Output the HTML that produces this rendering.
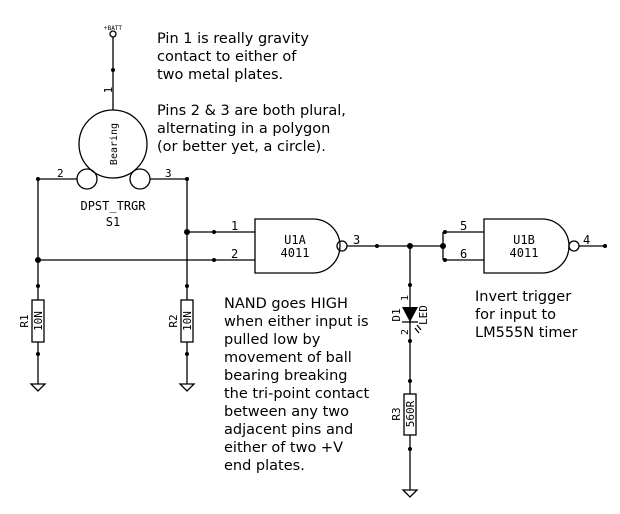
<!DOCTYPE html>
<html><head><style>
body{margin:0;background:#fff}
svg{display:block}
.t{font-family:"DejaVu Sans",sans-serif;font-size:14.5px;fill:#000}
.s{font-family:"DejaVu Sans Mono","Liberation Mono",monospace;font-size:11px;fill:#000}
</style></head><body>
<svg width="620" height="514" viewBox="0 0 620 514" xmlns="http://www.w3.org/2000/svg">
<g stroke="#000" stroke-width="1.3" fill="none">
<circle cx="113" cy="34" r="3"/>
<line x1="113" y1="37" x2="113" y2="110"/>
<circle cx="113" cy="144" r="34"/>
<circle cx="87" cy="179" r="10"/>
<circle cx="140" cy="179" r="10"/>
<line x1="38" y1="179" x2="77" y2="179"/>
<line x1="150" y1="179" x2="187" y2="179"/>
<line x1="38" y1="179" x2="38" y2="300"/>
<line x1="187" y1="179" x2="187" y2="300"/>
<line x1="187" y1="232" x2="255" y2="232"/>
<line x1="38" y1="260" x2="255" y2="260"/>
<path d="M255 219 H313 A27 27 0 0 1 313 273 H255 Z"/>
<circle cx="342" cy="246" r="5"/>
<line x1="347" y1="246" x2="443" y2="246"/>
<line x1="443" y1="232" x2="443" y2="260"/>
<line x1="443" y1="232" x2="484" y2="232"/>
<line x1="443" y1="260" x2="484" y2="260"/>
<path d="M484 219 H542 A27 27 0 0 1 542 273 H484 Z"/>
<circle cx="574" cy="246" r="5"/>
<line x1="579" y1="246" x2="605" y2="246"/>
<rect x="32" y="300" width="12" height="42"/>
<line x1="38" y1="342" x2="38" y2="384"/>
<path d="M31 384 H45 L38 391 Z"/>
<rect x="181" y="300" width="12" height="42"/>
<line x1="187" y1="342" x2="187" y2="384"/>
<path d="M180 384 H194 L187 391 Z"/>
<line x1="410" y1="246" x2="410" y2="394"/>
<rect x="404" y="394" width="12" height="41"/>
<line x1="410" y1="435" x2="410" y2="490"/>
<path d="M403 490 H417 L410 497 Z"/>
<line x1="402" y1="322" x2="418" y2="322"/>
<line x1="417" y1="325" x2="421" y2="330"/>
<line x1="415" y1="328" x2="419" y2="333"/>
</g>
<path d="M402 307 H418 L410 322 Z" fill="#000"/>
<g fill="#000">
<circle cx="113" cy="70" r="2"/>
<circle cx="38" cy="179" r="2"/><circle cx="187" cy="179" r="2"/>
<circle cx="187" cy="232" r="3"/><circle cx="38" cy="260" r="3"/>
<circle cx="214" cy="232" r="2"/><circle cx="214" cy="260" r="2"/>
<circle cx="377" cy="246" r="2"/><circle cx="410" cy="246" r="3"/><circle cx="443" cy="246" r="3"/>
<circle cx="445" cy="232" r="2"/><circle cx="445" cy="260" r="2"/>
<circle cx="605" cy="246" r="2"/>
<circle cx="38" cy="286" r="2"/><circle cx="38" cy="354" r="2"/>
<circle cx="187" cy="286" r="2"/><circle cx="187" cy="354" r="2"/>
<circle cx="410" cy="285" r="2"/><circle cx="410" cy="341" r="2"/>
<circle cx="410" cy="381" r="2"/><circle cx="410" cy="449" r="2"/>
</g>
<text x="113" y="30" class="s" style="font-size:6px" text-anchor="middle">+BATT</text>
<text class="s" transform="translate(112,90) rotate(-90)" text-anchor="middle">1</text>
<text class="s" transform="translate(117,144) rotate(-90)" text-anchor="middle" style="font-size:10px">Bearing</text>
<text x="57" y="177" class="s">2</text>
<text x="165" y="177" class="s">3</text>
<text x="113" y="210" class="s" text-anchor="middle" style="font-size:12px">DPST_TRGR</text>
<text x="113" y="226" class="s" text-anchor="middle" style="font-size:12px">S1</text>
<text x="231" y="230" class="s" style="font-size:12px">1</text>
<text x="231" y="258" class="s" style="font-size:12px">2</text>
<text x="295" y="244" class="s" text-anchor="middle" style="font-size:12px">U1A</text>
<text x="295" y="257" class="s" text-anchor="middle" style="font-size:12px">4011</text>
<text x="353" y="244" class="s" style="font-size:12px">3</text>
<text x="460" y="230" class="s" style="font-size:12px">5</text>
<text x="460" y="258" class="s" style="font-size:12px">6</text>
<text x="524" y="244" class="s" text-anchor="middle" style="font-size:12px">U1B</text>
<text x="524" y="257" class="s" text-anchor="middle" style="font-size:12px">4011</text>
<text x="583" y="244" class="s" style="font-size:12px">4</text>
<text class="s" transform="translate(28,321) rotate(-90)" text-anchor="middle">R1</text>
<text class="s" transform="translate(42,321) rotate(-90)" text-anchor="middle">10N</text>
<text class="s" transform="translate(177,321) rotate(-90)" text-anchor="middle">R2</text>
<text class="s" transform="translate(191,321) rotate(-90)" text-anchor="middle">10N</text>
<text class="s" transform="translate(400,414) rotate(-90)" text-anchor="middle">R3</text>
<text class="s" transform="translate(414,414) rotate(-90)" text-anchor="middle">560R</text>
<text class="s" transform="translate(400,315) rotate(-90)" text-anchor="middle">D1</text>
<text class="s" transform="translate(427,315) rotate(-90)" text-anchor="middle">LED</text>
<text class="s" transform="translate(408,298) rotate(-90)" text-anchor="middle" style="font-size:10px">1</text>
<text class="s" transform="translate(408,332) rotate(-90)" text-anchor="middle" style="font-size:10px">2</text>
<g class="t">
<text x="157" y="43">Pin 1 is really gravity</text>
<text x="157" y="61">contact to either of</text>
<text x="157" y="79">two metal plates.</text>
<text x="157" y="115">Pins 2 &amp; 3 are both plural,</text>
<text x="157" y="133">alternating in a polygon</text>
<text x="157" y="151">(or better yet, a circle).</text>
<text x="224" y="308">NAND goes HIGH</text>
<text x="224" y="326">when either input is</text>
<text x="224" y="344">pulled low by</text>
<text x="224" y="362">movement of ball</text>
<text x="224" y="380">bearing breaking</text>
<text x="224" y="398">the tri-point contact</text>
<text x="224" y="416">between any two</text>
<text x="224" y="434">adjacent pins and</text>
<text x="224" y="452">either of two +V</text>
<text x="224" y="470">end plates.</text>
<text x="475" y="301">Invert trigger</text>
<text x="475" y="319">for input to</text>
<text x="475" y="337">LM555N timer</text>
</g>
</svg>
</body></html>
